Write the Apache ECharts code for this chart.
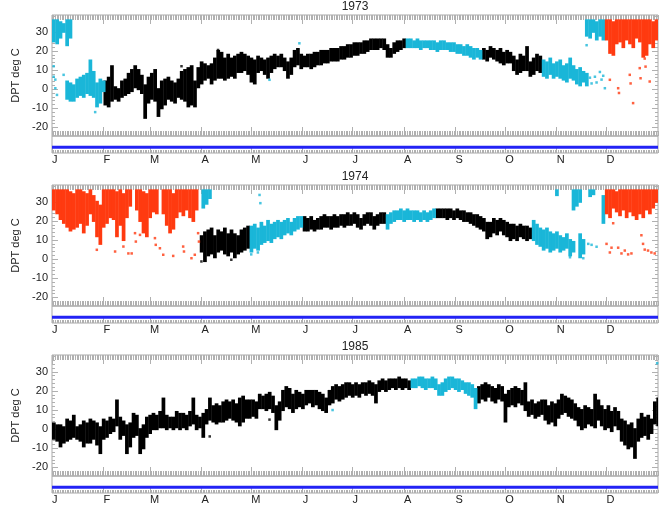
<!DOCTYPE html>
<html>
<head>
<meta charset="utf-8">
<script src="https://cdn.jsdelivr.net/npm/echarts@6/dist/echarts.min.js"></script>
<style>
  html, body { margin: 0; padding: 0; background: #fff; }
  #main { width: 667px; height: 513px; }
</style>
</head>
<body>
<div id="main"></div>
<script>
// ---- data ----
var years = ["1973", "1974", "1985"];
var monthLabels = ["J", "F", "M", "A", "M", "J", "J", "A", "S", "O", "N", "D"];
var monthStarts = [0, 31, 59, 90, 120, 151, 181, 212, 243, 273, 304, 334];
var yTicks = [-20, -10, 0, 10, 20, 30];
var yMinorTicks = [-24, -22, -20, -18, -16, -14, -12, -10, -8, -6, -4, -2, 0, 2, 4, 6, 8, 10, 12, 14, 16, 18, 20, 22, 24, 26, 28, 30, 32, 34, 36, 38];
var blueLevel = 0.34;

// [day, low, high] ranges of the dense hourly cloud (2 day steps)
var black1973 = [
  [31,-8,4],[33,-9,6],[35,-6,12],[37,-5,1],[39,-6,0],[41,-4,4],[43,-3,5],[45,-2,8],[47,-1,10],[49,1,12],
  [51,0,10],[53,-2,7],[55,-15,2],[57,-7,6],[59,-5,8],[61,-6,10],[63,-14,0],[65,-10,4],[67,-8,5],[69,-5,6],
  [71,-6,4],[73,-7,3],[75,-4,5],[77,-5,9],[79,-6,10],[81,-9,11],[83,-8,12],[85,-9,4],[87,1,11],[89,3,14],
  [91,5,13],[93,6,12],[95,3,13],[97,5,16],[99,6,20],[101,6,19],[103,5,16],[105,6,18],[107,7,16],[109,6,17],
  [111,9,18],[113,9,19],[115,10,18],[117,8,17],[119,4,16],[121,3,15],[123,9,17],[125,10,16],[127,8,15],[129,6,16],
  [131,9,17],[133,11,18],[135,12,17],[137,12,18],[139,10,16],[141,6,14],[143,8,16],[145,12,20],[147,13,21],[149,11,18],
  [151,12,17],[153,12,18],[155,11,18],[157,12,19],[159,13,19],[161,13,20],[163,14,20],[165,14,20],[167,15,21],[169,15,21],
  [171,15,21],[173,16,22],[175,16,22],[177,17,23],[179,17,23],[181,18,24],[183,18,24],[185,19,24],[187,19,25],[189,20,25],
  [191,21,26],[193,21,26],[195,21,26],[197,22,26],[199,21,26],[201,17,23],[203,17,21],[205,19,24],[207,20,25],[209,21,25],
  [211,22,26],
  [259,16,21],[261,15,20],[263,17,22],[265,16,21],[267,15,20],[269,14,21],[271,13,19],[273,14,20],[275,14,19],[277,10,17],
  [279,8,15],[281,9,18],[283,10,17],[285,10,22],[287,7,14],[289,8,16],[291,10,18],[293,9,17]
];
var cyan1973 = [
  [0,25,36],[2,24,36],[4,27,35],[6,30,34],[8,23,36],[10,27,36],
  [8,-5,4],[10,-6,3],[12,-6,2],[14,-4,5],[16,-3,6],[18,-4,7],[20,-2,8],[22,-3,15],[24,-4,9],[26,-9,3],[28,-7,5],[30,-1,4],
  [213,22,26],[215,22,26],[217,22,25],[219,22,26],[221,21,25],[223,22,25],[225,22,25],[227,21,25],[229,21,25],[231,20,24],
  [233,21,25],[235,21,25],[237,21,24],[239,20,24],[241,20,24],[243,19,23],[245,19,23],[247,18,22],[249,18,23],[251,17,22],
  [253,16,21],[255,17,21],[257,16,20],
  [295,7,15],[297,6,14],[299,8,16],[301,6,13],[303,7,14],[305,6,15],[307,5,12],[309,4,13],[311,6,16],[313,5,12],
  [315,3,10],[317,2,11],[319,4,9],[321,2,8],
  [321,28,36],[323,27,36],[325,30,36],[327,26,35],[329,28,36],[331,26,36]
];
var red1973 = [
  [333,26,36],[335,19,36],[337,18,35],[339,24,36],[341,25,36],[343,22,36],[345,26,36],[347,24,36],
  [349,22,36],[351,27,36],[353,25,36],[355,17,36],[357,18,36],[359,24,36],[361,22,35],[363,26,36]
];
var black1974 = [
  [89,4,12],[91,-1,14],[93,2,15],[95,3,16],[97,1,12],[99,4,15],[101,5,14],[103,3,16],[105,2,13],[107,4,15],
  [109,1,13],[111,3,12],[113,4,15],[115,5,16],[117,6,17],
  [151,15,22],[153,15,21],[155,16,22],[157,15,20],[159,16,21],[161,16,22],[163,17,23],[165,17,22],[167,16,22],[169,17,23],
  [171,17,22],[173,18,23],[175,17,23],[177,18,24],[179,18,23],[181,19,24],[183,17,23],[185,16,21],[187,18,23],[189,19,24],
  [191,18,24],[193,16,22],[195,18,23],[197,19,24],[199,19,24],
  [231,22,26],[233,22,26],[235,22,26],[237,21,26],[239,22,26],[241,21,25],[243,22,26],[245,21,25],[247,20,25],[249,20,24],
  [251,19,24],[253,18,23],[255,17,23],[257,16,22],[259,15,21],[261,11,19],[263,12,19],[265,14,21],[267,13,20],[269,15,21],
  [271,13,20],[273,12,19],[275,10,18],[277,11,18],[279,10,17],[281,12,18],[283,11,17],[285,10,17],[287,11,16]
];
var cyan1974 = [
  [90,27,36],[92,29,36],[94,32,36],
  [119,4,17],[121,6,18],[123,5,16],[125,8,19],[127,9,17],[129,10,20],[131,9,18],[133,11,19],[135,12,20],[137,11,19],
  [139,13,20],[141,14,21],[143,13,19],[145,15,21],[147,16,22],[149,17,22],
  [201,16,23],[203,19,24],[205,20,25],[207,21,25],[209,21,26],[211,20,25],[213,21,26],[215,21,25],[217,20,25],[219,21,25],
  [221,20,24],[223,21,25],[225,20,24],[227,21,25],[229,22,26],
  [289,10,20],[291,8,18],[293,7,16],[295,5,15],[297,6,16],[299,4,14],[301,5,13],[303,6,14],[305,4,12],[307,5,11],
  [309,6,13],[311,2,10],[313,4,9],[317,1,13],[319,3,10],
  [303,33.5,36],[313,26,36],[315,28,36],[317,30,36],[323,33,36],[325,34,36],[331,19,33]
];
var red1974 = [
  [0,26,36],[2,24,36],[4,21,36],[6,19,36],[8,17,36],[10,15,35],[12,16,34],[14,17,36],[16,19,36],[18,14,35],
  [20,18,34],[22,24,36],[24,20,33],[26,12,30],[28,8,28],[30,17,36],[32,19,36],[34,22,36],[36,21,36],[38,12,35],
  [40,18,36],[42,10,34],[44,22,36],[46,28,36],[50,26,36],[52,20,36],[54,14,35],[56,12,34],[58,22,36],[60,25,36],
  [62,24,36],[66,24,36],[68,18,36],[70,14,36],[72,16,34],[74,22,36],[76,25,36],[78,23,36],[80,26,36],[82,22,36],
  [84,20,36],[86,26,36],
  [333,24,36],[335,22,36],[337,27,36],[339,25,35],[341,23,36],[343,26,36],[345,22,36],[347,25,36],[349,23,36],[351,21,36],
  [353,24,36],[355,22,36],[357,26,36],[359,24,36],[361,27,36],[363,30,36]
];
var black1985 = [
  [0,-5,3],[2,-6,2],[4,-9,2],[6,-7,1],[8,-6,5],[10,-5,4],[12,-4,7],[14,-5,1],[16,-6,2],[18,-9,4],
  [20,-7,3],[22,-7,5],[24,-5,4],[26,-8,3],[28,-12.5,1],[30,-5,5],[32,-4,4],[34,-2,6],[36,-1,5],[38,2,15],
  [40,-5,6],[42,-3,4],[44,-12.5,2],[46,-9,3],[48,-4,8],[50,-3,7],[52,-12.5,0],[54,-10,2],[56,-4,6],[58,-2,7],
  [60,0,8],[62,0,7],[64,1,9],[66,1,16],[68,0,7],[70,1,6],[72,0,6],[74,1,9],[76,0,8],[78,1,8],
  [80,0,7],[82,2,9],[84,3,16],[86,0,7],[88,1,6],[90,-4,8],[92,3,10],[94,5,16],[96,4,12],[98,3,13],
  [100,4,12],[102,4,14],[104,5,15],[106,6,14],[108,5,15],[110,4,13],[112,2,16],[114,4,17],[116,6,15],[118,6,15],
  [120,7,15],[122,6,14],[124,11,18],[126,11,17],[128,10,18],[130,11,19],[132,9,17],[134,0,12],[136,5,14],[138,10,20],
  [140,12,22],[142,11,21],[144,9,18],[146,11,20],[148,12,19],[150,11,18],[152,13,20],[154,14,20],[156,12,20],[158,13,20],
  [160,11,19],[162,10,18],[164,9,16],[166,13,20],[168,14,22],[170,16,23],[172,15,22],[174,16,23],[176,17,24],[178,18,24],
  [180,17,23],[182,18,24],[184,17,23],[186,19,24],[188,18,24],[190,19,25],[192,18,24],[194,14,23],[196,20,25],[198,21,26],
  [200,20,25],[202,21,26],[204,22,26],[206,21,26],[208,22,27],[210,21,26],[212,22,26],[214,21,25],
  [256,14,22],[258,16,23],[260,15,24],[262,17,23],[264,15,22],[266,14,21],[268,16,23],[270,15,22],[272,4,18],[274,12,20],
  [276,13,21],[278,12,22],[280,14,21],[282,13,20],[284,10,24],[286,7,14],[288,8,15],[290,6,13],[292,7,14],[294,8,15],
  [296,5,15],[298,3,12],[300,4,14],[302,2,13],[304,6,15],[306,8,18],[308,9,17],[310,7,16],[312,6,15],[314,5,13],
  [316,2,11],[318,0,10],[320,1,12],[322,3,11],[324,2,10],[326,1,18],[328,5,15],[330,2,12],[332,0,10],[334,1,12],
  [336,-1,9],[338,2,11],[340,0,9],[342,-6,5],[344,-8,4],[346,-10,2],[348,-9,3],[350,-15,0],[352,-6,5],[354,-4,8],
  [356,-3,6],[358,-5,7],[360,-2,5],[362,3,14],[364,2,16]
];
var cyan1985 = [
  [216,22,26],[218,22,26],[220,23,27],[222,22,27],[224,21,26],[226,22,26],[228,22,27],[230,21,26],[232,18,23],[234,18,24],
  [236,20,26],[238,21,27],[240,22,27],[242,21,26],[244,20,26],[246,21,25],[248,19,24],[250,18,24],[252,17,23],[254,11,21]
];
var red1985 = [];

// [day, value] isolated observations
var blackPts1973 = [[78,12],[100,20.5],[122,3.5]];
var cyanPts1973 = [[1,12],[1,6.5],[2,5],[2,0.5],[3,-3],[7,7.5],[26,-12],[131,4.9],[149,24],
  [320,5],[322,23],[324,6],[325,3],[327,6.5],[328,3.5],[330,9],[331,5],[332,7],[333,0.5]];
var redPts1973 = [[336,4.9],[341,0.5],[341.5,-2],[348,7.5],[348.5,3],[350,-7.3],[354,11],[354.5,5.7],
  [357,16],[357.5,11.8],[360,4]];
var blackPts1974 = [[90,-1.2],[108,-0.3]];
var cyanPts1974 = [[120,2.5],[124,3.5],[125,33.6],[125.5,29.3],[312,1],[320,0.5],[323,8],[325,7.5],[328,6.5]];
var redPts1974 = [[27,4.9],[38,4],[43,6.6],[46,3],[48,3],[50,13.6],[50.5,9.2],[53,12.7],[62,11],[62.5,7.5],
  [65,5.7],[67,2.3],[73,1.7],[79,6.6],[79.5,4],[84,0.5],[86,2.3],[88,13.6],[88.5,9.2],
  [334,8],[336,3.5],[337,6],[338,18.8],[341,6],[343,3],[345,4.5],[347,2.5],[349,3],[355,12.5],
  [356,8],[357,5],[359,4.5],[361,3.5],[363,3]];
var blackPts1985 = [[95,-3.8],[131,5]];
var cyanPts1985 = [[169,10],[364.5,34.5]];
var redPts1985 = [];

var rangesByYear = [
  { black: black1973, cyan: cyan1973, red: red1973 },
  { black: black1974, cyan: cyan1974, red: red1974 },
  { black: black1985, cyan: cyan1985, red: red1985 }
];
var pointsByYear = [
  { black: blackPts1973, cyan: cyanPts1973, red: redPts1973 },
  { black: blackPts1974, cyan: cyanPts1974, red: redPts1974 },
  { black: blackPts1985, cyan: cyanPts1985, red: redPts1985 }
];

// ---- styling / layout ----
var COLORS = { black: "#000000", cyan: "#1ab6d8", red: "#ff3a10" };
var FONT = "Liberation Sans, Arial, Helvetica, sans-serif";
var FRAME = "#a8a8a8";
var TICK = "#b0b0b0";
var STEP = 2;

var myChart = echarts.init(document.getElementById("main"));

function rangeItem(params, api) {
  var day = api.value(0);
  var p0 = api.coord([day, api.value(2)]);
  var p1 = api.coord([day + STEP, api.value(1)]);
  return {
    type: "rect",
    shape: { x: p0[0], y: p0[1] - 1, width: p1[0] - p0[0] + 0.4, height: p1[1] - p0[1] + 2 },
    style: { fill: api.visual("color") }
  };
}

function xAxisDef(gridIndex, position, len, custom, showLabels) {
  var a = {
    type: "value", gridIndex: gridIndex, position: position, min: 0, max: 365,
    axisLine: { show: false, onZero: false }, splitLine: { show: false },
    axisTick: { show: true, inside: true, length: len, lineStyle: { color: TICK, width: 1 } },
    axisLabel: { show: false }
  };
  if (custom) {
    a.axisTick.customValues = custom;
  } else {
    a.interval = 1;
  }
  if (showLabels) {
    a.axisLabel = {
      show: true, customValues: monthStarts, margin: 1, align: "left",
      fontFamily: FONT, fontSize: 11, color: "#222",
      formatter: function (v) { return monthLabels[monthStarts.indexOf(v)]; }
    };
  }
  return a;
}

function yAxisDef(gridIndex, position, len, custom, withLabels) {
  var a = {
    type: "value", gridIndex: gridIndex, position: position, min: -24.5, max: 38.8,
    axisLine: { show: false, onZero: false }, splitLine: { show: false },
    axisTick: { show: true, inside: true, length: len, customValues: custom, lineStyle: { color: TICK, width: 1 } },
    axisLabel: { show: false }
  };
  if (withLabels) {
    a.axisLabel = { show: true, customValues: yTicks, margin: 4, fontFamily: FONT, fontSize: 11, color: "#222" };
    a.name = "DPT deg C";
    a.nameLocation = "middle";
    a.nameGap = 23;
    a.nameTextStyle = { fontFamily: FONT, fontSize: 11, color: "#222" };
  }
  return a;
}

var grids = [], xAxes = [], yAxes = [], series = [], graphics = [];

for (var p = 0; p < 3; p++) {
  var panelTop = 15 + 170 * p;
  grids.push({ left: 52, width: 606, top: panelTop, height: 121, show: true, borderColor: FRAME, borderWidth: 1 });
  grids.push({ left: 52, width: 606, top: panelTop + 121, height: 17, show: true, borderColor: FRAME, borderWidth: 1 });
  var gMain = 2 * p, gStrip = 2 * p + 1;

  xAxes.push(xAxisDef(gMain, "bottom", 5, null, false));
  xAxes.push(xAxisDef(gMain, "bottom", 9, monthStarts, false));
  xAxes.push(xAxisDef(gMain, "top", 5, null, false));
  xAxes.push(xAxisDef(gMain, "top", 9, monthStarts, false));
  xAxes.push(xAxisDef(gStrip, "bottom", 3, null, false));
  xAxes.push(xAxisDef(gStrip, "bottom", 6, monthStarts, true));

  yAxes.push(yAxisDef(gMain, "left", 6, yTicks, true));
  yAxes.push(yAxisDef(gMain, "left", 3, yMinorTicks, false));
  yAxes.push(yAxisDef(gMain, "right", 6, yTicks, false));
  yAxes.push(yAxisDef(gMain, "right", 3, yMinorTicks, false));
  yAxes.push({ type: "value", gridIndex: gStrip, min: 0, max: 1, show: false });

  var xi = 6 * p, yi = 5 * p;
  ["black", "cyan", "red"].forEach(function (c) {
    if (rangesByYear[p][c].length) {
      series.push({
        type: "custom", xAxisIndex: xi, yAxisIndex: yi, renderItem: rangeItem, clip: true,
        itemStyle: { color: COLORS[c] }, encode: { x: 0, y: [1, 2] }, data: rangesByYear[p][c], silent: true
      });
    }
    if (pointsByYear[p][c].length) {
      series.push({
        type: "scatter", xAxisIndex: xi, yAxisIndex: yi, symbol: "rect", symbolSize: 2.5,
        itemStyle: { color: COLORS[c] }, data: pointsByYear[p][c], silent: true
      });
    }
  });
  series.push({
    type: "line", xAxisIndex: xi + 4, yAxisIndex: yi + 4, symbol: "none", silent: true,
    lineStyle: { color: "#2323f5", width: 3 }, data: [[0, blueLevel], [365, blueLevel]]
  });

  graphics.push({
    type: "text", x: 355, y: 170 * p + 1, silent: true,
    style: { text: years[p], textAlign: "center", textVerticalAlign: "top", font: "12px " + FONT, fill: "#222" }
  });
}

myChart.setOption({
  animation: false,
  backgroundColor: "#fff",
  grid: grids,
  xAxis: xAxes,
  yAxis: yAxes,
  series: series,
  graphic: graphics
});
</script>
</body>
</html>
